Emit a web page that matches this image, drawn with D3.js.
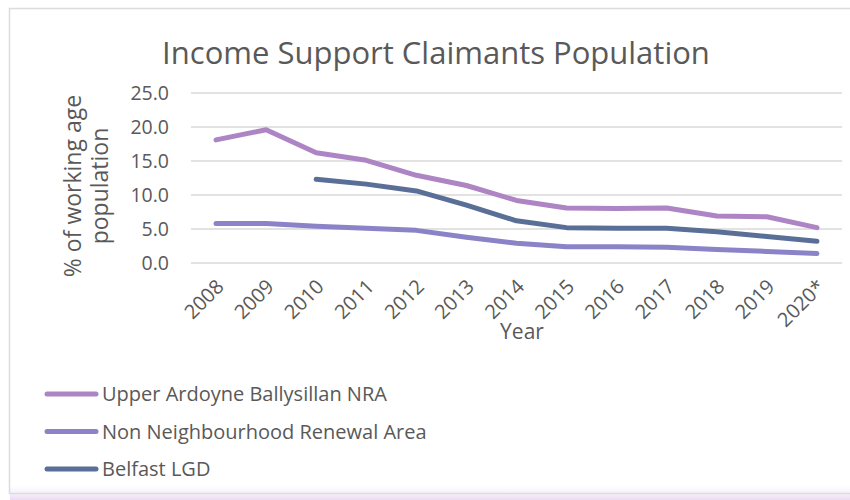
<!DOCTYPE html>
<html>

<head>
    <title>Income Support Claimants Population</title>
    <script src="https://cdnjs.cloudflare.com/ajax/libs/d3/7.8.5/d3.min.js"></script>
    <style>
        body {
            margin: 0;
            background: #fff;
        }

        text {
            font-family: "Open Sans", sans-serif;
            fill: #595959;
        }
    </style>
</head>

<body>
    <div id="chart"></div>
    <script>
        // Data
        const years = ["2008", "2009", "2010", "2011", "2012", "2013", "2014", "2015", "2016", "2017", "2018", "2019", "2020*"];
        const upperArdoyne = [18.1, 19.6, 16.2, 15.1, 12.9, 11.4, 9.2, 8.1, 8.0, 8.1, 6.9, 6.8, 5.2];
        const nonNRA = [5.8, 5.8, 5.4, 5.1, 4.8, 3.8, 2.9, 2.4, 2.4, 2.3, 2.0, 1.7, 1.4];
        const belfastLGD = [null, null, 12.3, 11.6, 10.6, 8.5, 6.2, 5.2, 5.1, 5.1, 4.6, 3.9, 3.2];
        const yTicks = [0, 5, 10, 15, 20, 25];

        const series = [
            { name: "Upper Ardoyne Ballysillan NRA", values: upperArdoyne, color: "#ad84c4" },
            { name: "Non Neighbourhood Renewal Area", values: nonNRA, color: "#8a83c8" },
            { name: "Belfast LGD", values: belfastLGD, color: "#5a6f97" }
        ];

        const width = 850, height = 500;

        const svg = d3.select("#chart")
            .append("svg")
            .attr("width", width)
            .attr("height", height);

        // frame + faint bottom shade
        const defs = svg.append("defs");
        const grad = defs.append("linearGradient")
            .attr("id", "shade").attr("x1", 0).attr("y1", 0).attr("x2", 0).attr("y2", 1);
        grad.append("stop").attr("offset", "0%").attr("stop-color", "#f3ebf8").attr("stop-opacity", 0);
        grad.append("stop").attr("offset", "100%").attr("stop-color", "#eadcf3");

        svg.append("rect")
            .attr("x", 10).attr("y", 485)
            .attr("width", width).attr("height", 15)
            .attr("fill", "url(#shade)");

        svg.append("rect")
            .attr("x", 9.5).attr("y", 8.5)
            .attr("width", width).attr("height", 485)
            .attr("fill", "none")
            .attr("stroke", "#dcdcdc")
            .attr("stroke-width", 1.5);

        // scales
        const x = d3.scaleBand()
            .domain(years)
            .range([191, 842]);

        const y = d3.scaleLinear()
            .domain([0, 25])
            .range([263, 93]);

        const cx = d => x(d) + x.bandwidth() / 2;

        // title
        svg.append("text")
            .attr("x", 436)
            .attr("y", 64)
            .attr("text-anchor", "middle")
            .style("font-size", "31px")
            .text("Income Support Claimants Population");

        // gridlines
        svg.append("g")
            .selectAll("line")
            .data(yTicks)
            .enter()
            .append("line")
            .attr("x1", 191).attr("x2", 842)
            .attr("y1", d => y(d)).attr("y2", d => y(d))
            .attr("stroke", "#d9d9d9")
            .attr("stroke-width", 1.5);

        // y axis labels
        const yAxis = svg.append("g")
            .attr("transform", "translate(191,0)")
            .call(d3.axisLeft(y).tickValues(yTicks).tickFormat(d3.format(".1f")).tickSize(0).tickPadding(22));
        yAxis.select(".domain").remove();
        yAxis.selectAll("text")
            .style("font-size", "19.5px")
            .style("font-family", "'Open Sans', sans-serif")
            .attr("fill", "#595959");

        // x axis labels
        const xAxis = svg.append("g")
            .attr("transform", "translate(0,263)")
            .call(d3.axisBottom(x).tickSize(0).tickPadding(0));
        xAxis.select(".domain").remove();
        xAxis.selectAll("text")
            .style("font-size", "20px")
            .style("font-family", "'Open Sans', sans-serif")
            .attr("fill", "#595959")
            .attr("text-anchor", "end")
            .attr("dy", null)
            .attr("y", 0)
            .attr("transform", "translate(9,25) rotate(-45)");

        // axis titles
        const yTitle = svg.append("text")
            .attr("transform", "translate(81,186) rotate(-90)")
            .attr("text-anchor", "middle")
            .style("font-size", "23px");
        yTitle.append("tspan").attr("x", 0).attr("y", 0).text("% of working age");
        yTitle.append("tspan").attr("x", 0).attr("y", 27).text("population");

        svg.append("text")
            .attr("x", 522)
            .attr("y", 339)
            .attr("text-anchor", "middle")
            .style("font-size", "21px")
            .text("Year");

        // lines
        const line = d3.line()
            .defined(d => d.v !== null)
            .x(d => cx(d.year))
            .y(d => y(d.v));

        svg.append("g")
            .selectAll("path")
            .data(series)
            .enter()
            .append("path")
            .attr("d", s => line(years.map((yr, i) => ({ year: yr, v: s.values[i] }))))
            .attr("fill", "none")
            .attr("stroke", s => s.color)
            .attr("stroke-width", 5)
            .attr("stroke-linecap", "round")
            .attr("stroke-linejoin", "round");

        // legend
        const legend = svg.append("g")
            .selectAll("g")
            .data(series)
            .enter()
            .append("g")
            .attr("transform", (s, i) => `translate(0,${394 + i * 37.5})`);

        legend.append("line")
            .attr("x1", 47).attr("x2", 96)
            .attr("stroke", s => s.color)
            .attr("stroke-width", 5)
            .attr("stroke-linecap", "round");

        legend.append("text")
            .attr("x", 102)
            .attr("dy", "0.35em")
            .style("font-size", "20px")
            .text(s => s.name);
    </script>
</body>

</html>
